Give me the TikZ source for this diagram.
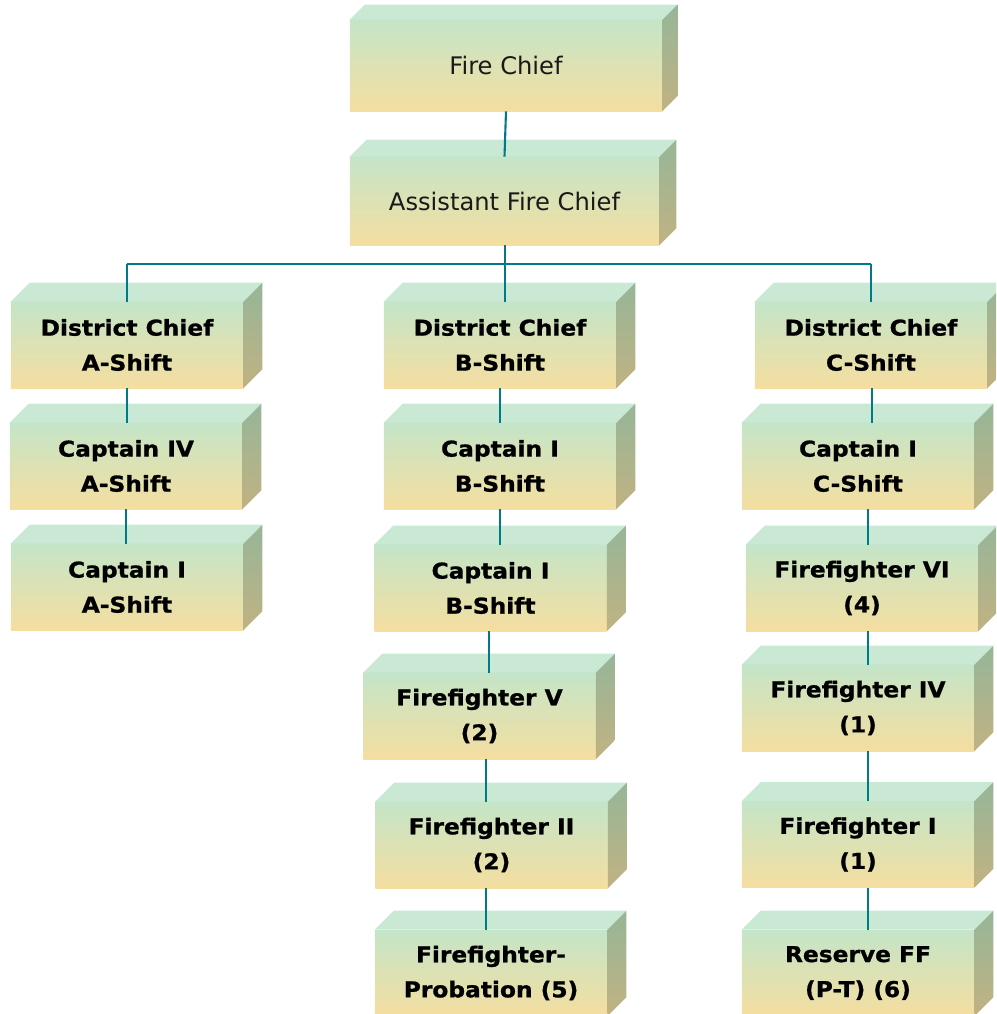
\documentclass[tikz,border=0pt]{standalone}
\usepackage{fontspec}
\setmainfont{DejaVu Sans}
\newfontfamily\rankfont{DejaVu Sans}[FakeStretch=1.07, BoldFeatures={FakeBold=1}]
\usepackage{tikz}
\usetikzlibrary{calc, positioning}
\definecolor{FaceTop}{RGB}{196,229,200}
\definecolor{FaceBottom}{RGB}{245,222,160}
\definecolor{LidColor}{RGB}{201,233,212}
\definecolor{SideTop}{RGB}{150,182,152}
\definecolor{SideBottom}{RGB}{193,178,130}
\definecolor{LinkTeal}{RGB}{0,122,138}
\tikzset{
    rankbox/.style={
        top color=FaceTop, bottom color=FaceBottom, draw=none,
        minimum width=5.8cm, minimum height=2.15cm, inner sep=0pt, align=center,
        font=\rankfont\bfseries\fontsize{15.5}{24.9}\selectfont
    },
    headbox/.style={
        rankbox, font=\fontsize{17.2}{20}\selectfont, text=black!90
    },
    link/.style={
        draw=LinkTeal, line width=1.5pt
    }
}
\newcommand{\drawdepth}[2]{
    \fill[LidColor] (#1.north west) -- ++(#2,-#2) -- ($(#1.north east)+(#2,-#2)$) -- (#1.north east) -- cycle;
    \shade[top color=SideTop, bottom color=SideBottom] (#1.north east) -- ++(#2,-#2) -- ($(#1.south east)+(#2,-#2)$) -- (#1.south east) -- cycle;
}
\newcommand{\linkdown}[3]{
    \path (#3,0) coordinate (linkx);
    \draw[link] (#1.south -| linkx) -- (#2.north -| linkx);
}

\begin{document}
\begin{tikzpicture}[x=0.025cm, y=-0.025cm]
    \clip (0,0) rectangle (996,1014);

    % --- CHIEFS ---
    \node[headbox, minimum width=7.8cm, minimum height=2.275cm] (fire) at (506,65.5) {Fire Chief};
    \node[headbox, minimum width=7.725cm, minimum height=2.2cm] (asst) at (504.5,201) {Assistant Fire Chief};
    \drawdepth{fire}{15}
    \drawdepth{asst}{17}

    % --- A-SHIFT ---
    \node[rankbox] (dcA) at (127,345) {District Chief\\A-Shift};
    \node[rankbox] (capAiv) at (126,466) {Captain IV\\A-Shift};
    \node[rankbox] (capAi) at (127,587) {Captain I\\A-Shift};

    % --- B-SHIFT ---
    \node[rankbox] (dcB) at (500,345) {District Chief\\B-Shift};
    \node[rankbox] (capBa) at (500,466) {Captain I\\B-Shift};
    \node[rankbox] (capBb) at (490.5,588) {Captain I\\B-Shift};
    \node[rankbox] (ffV) at (479.5,716) {Firefighter V\\(2)};
    \node[rankbox] (ffII) at (491.5,845) {Firefighter II\\(2)};
    \node[rankbox] (ffProb) at (491,973) {Firefighter-\\Probation (5)};

    % --- C-SHIFT ---
    \node[rankbox] (dcC) at (871,345) {District Chief\\C-Shift};
    \node[rankbox] (capC) at (858,466) {Captain I\\C-Shift};
    \node[rankbox] (ffVI) at (862,588) {Firefighter VI\\(4)};
    \node[rankbox] (ffIV) at (858,708) {Firefighter IV\\(1)};
    \node[rankbox] (ffI) at (858,844.5) {Firefighter I\\(1)};
    \node[rankbox] (ffRes) at (858,973) {Reserve FF\\(P-T) (6)};

    \foreach \n in {dcA,capAiv,capAi,dcB,capBa,capBb,ffV,ffII,ffProb,dcC,capC,ffVI,ffIV,ffI,ffRes}
        \drawdepth{\n}{19};

    % --- CONNECTORS ---
    \coordinate (bus) at (505,264);
    \draw[link] (fire.south) -- (asst.north);
    \draw[link] (asst.south -| bus) -- (dcB.north -| bus);
    \draw[link] (dcA.north |- bus) -- (dcC.north |- bus);
    \draw[link] (dcA.north |- bus) -- (dcA.north);
    \draw[link] (dcC.north |- bus) -- (dcC.north);

    \linkdown{dcA}{capAiv}{127}
    \linkdown{capAiv}{capAi}{126}
    \linkdown{dcB}{capBa}{500}
    \linkdown{capBa}{capBb}{500}
    \linkdown{capBb}{ffV}{489}
    \linkdown{ffV}{ffII}{486}
    \linkdown{ffII}{ffProb}{486}
    \linkdown{dcC}{capC}{872}
    \linkdown{capC}{ffVI}{868}
    \linkdown{ffVI}{ffIV}{868}
    \linkdown{ffIV}{ffI}{868}
    \linkdown{ffI}{ffRes}{868}
\end{tikzpicture}
\end{document}
